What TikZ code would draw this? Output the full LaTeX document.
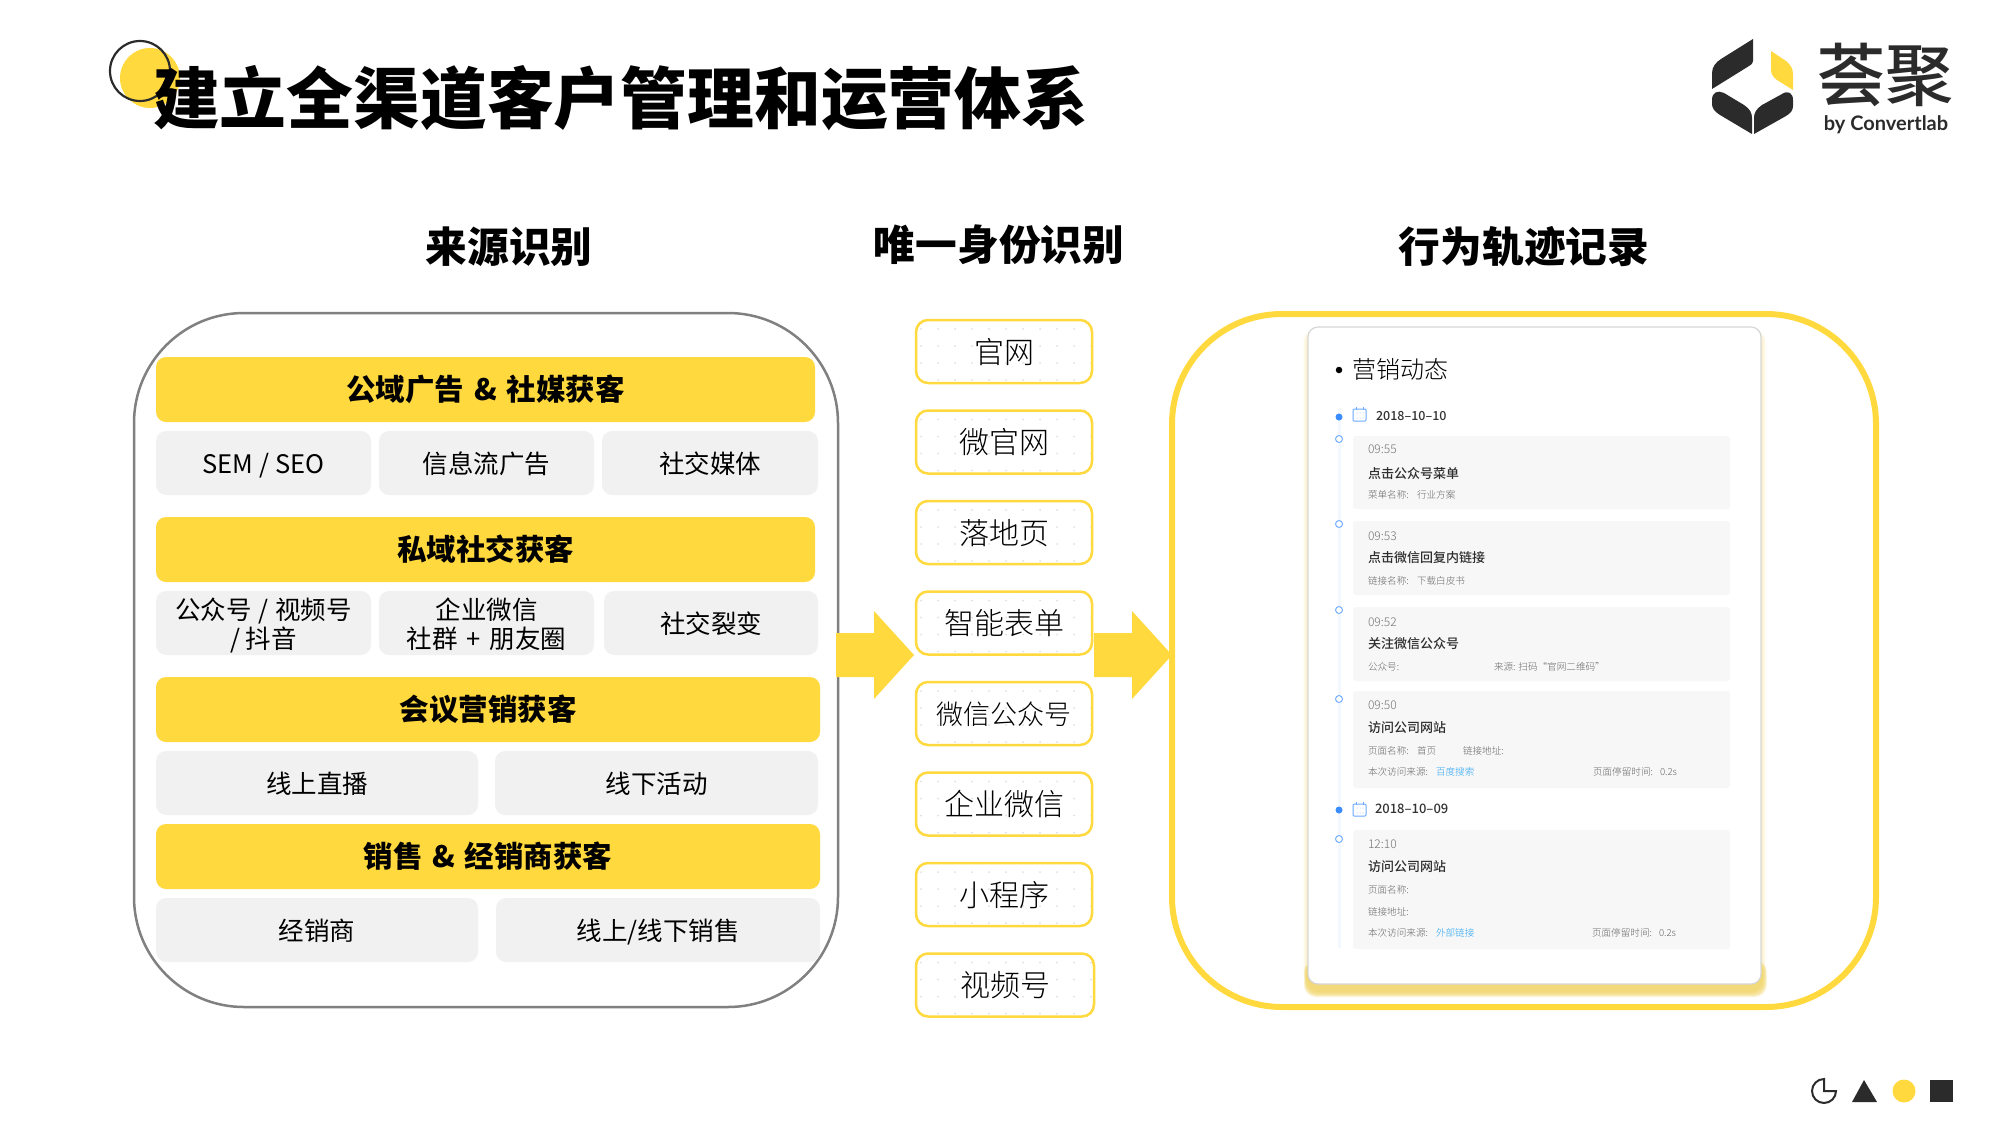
\documentclass[tikz,border=0pt]{standalone}
\usepackage{fontspec}
\usepackage{xcolor}
\usetikzlibrary{positioning,calc}
\setmainfont{Noto Sans CJK SC}
\newfontfamily\blackfont{Noto Sans CJK SC Black}
\newfontfamily\lightfont{Noto Sans CJK SC Light}
\newfontfamily\mediumfont{Noto Sans CJK SC Medium}
\newfontfamily\latinfont{Lato}
\definecolor{qjyellow}{HTML}{FFD93D}
\definecolor{qjshadow}{HTML}{F0D466}
\definecolor{qjdark}{HTML}{2B2B2B}
\definecolor{qjcell}{HTML}{F1F1F1}
\definecolor{qjpanel}{HTML}{F7F7F7}
\definecolor{qjblue}{HTML}{3B8CFF}
\definecolor{qjlink}{HTML}{2AA5F5}
\newcommand{\fsz}[1]{\fontsize{#1}{#1}\selectfont}

\begin{document}
\begin{tikzpicture}[
    x=1pt, y=-1pt,
    every node/.style={align=center, inner sep=0pt, outer sep=0pt, text=black},
    headtext/.style={font=\fsz{41.7}\bfseries},
    barbox/.style={fill=qjyellow, rounded corners=10pt, minimum height=65pt, font=\fsz{29.5}\bfseries},
    cellbox/.style={fill=qjcell, rounded corners=10pt, minimum height=64pt, font=\fsz{25.5}, text height=21pt, text depth=0pt},
    cellboxtwo/.style={cellbox, font=\fontsize{25.5}{29}\selectfont, text height=51pt, text depth=0pt},
    idbox/.style={draw=qjyellow, line width=2.5pt, fill=white, rounded corners=12pt, minimum width=176pt, minimum height=63pt, font=\fsz{30}\lightfont, text height=23pt, text depth=0pt,
        path picture={\foreach \i in {0,...,10} \foreach \j in {0,...,3}
            \fill[black!12] ($(path picture bounding box.north west)+(5+17*\i,9+17*\j)$) circle (1pt);}},
    blockarrow/.style={fill=qjyellow},
    panelbox/.style={fill=qjpanel, rounded corners=3pt, minimum width=377pt, anchor=north west},
    timetext/.style={anchor=west, font=\fsz{12}\lightfont, text=black!55},
    eventtext/.style={anchor=west, font=\fsz{13}\mediumfont, text=black!82},
    subtext/.style={anchor=west, font=\fsz{9.6}\lightfont, text=black!60},
    linktext/.style={subtext, text=qjlink},
    datetext/.style={anchor=west, font=\fsz{12.5}\mediumfont, text=black!80},
    dayday/.style={fill=qjblue, circle, minimum size=7pt},
    hourdot/.style={draw=qjblue!70, line width=1pt, fill=white, circle, minimum size=7pt},
    calicon/.style={draw=qjblue!75, line width=1pt, rounded corners=1pt, minimum width=13pt, minimum height=12pt, anchor=north west}
]
    \useasboundingbox (0,0) rectangle (2000,1125);

    % title
    \fill[qjyellow] (150,78) circle (30);
    \draw[qjdark, line width=2.2pt] (140,71) circle (30);
    \node[anchor=west, font=\fsz{66.8}\blackfont] (title) at (153,98.5) {建立全渠道客户管理和运营体系};

    % logo
    \fill[qjdark] (1753,39) -- (1753,61) .. controls (1753,63) and (1752,64) .. (1749,66) -- (1712,89) -- (1712,73) .. controls (1712,67) and (1716,62) .. (1721,59) -- cycle;
    \fill[qjyellow] (1771,51) -- (1786,61) .. controls (1791,65) and (1793,69) .. (1793,74) -- (1793,90) -- (1777,80) .. controls (1773,77) and (1771,74) .. (1771,70) -- cycle;
    \fill[qjdark] (1712,100) .. controls (1712,92) and (1718,90) .. (1724,93) -- (1744,105) .. controls (1750,109) and (1752,113) .. (1752,118) -- (1752,134) -- (1720,115) .. controls (1714,111) and (1712,108) .. (1712,104) -- cycle;
    \fill[qjdark] (1754,134) -- (1754,118) .. controls (1754,113) and (1756,109) .. (1762,105) -- (1782,94) .. controls (1788,90) and (1793,93) .. (1793,100) -- (1793,106) .. controls (1793,110) and (1791,113) .. (1786,116) -- cycle;
    \node[font=\fsz{68}\mediumfont, text=qjdark] (logoname) at (1885,75) {荟聚};
    \node[font=\fsz{20}\latinfont\bfseries, text=qjdark] (logoby) at (1886,125) {by Convertlab};

    % column heads
    \node[headtext] (headsource) at (509,247) {来源识别};
    \node[headtext] (headid) at (999,245) {唯一身份识别};
    \node[headtext] (headtrack) at (1524,247) {行为轨迹记录};

    % source column
    \draw[black!50, line width=2.5pt, rounded corners=110pt] (134,313) rectangle (838,1007);
    \node[barbox, minimum width=659pt, anchor=north west] (barpublic) at (156,357) {公域广告\hspace{3pt} \& \hspace{3pt}社媒获客};
    \node[cellbox, minimum width=215pt, anchor=north west] (seo) at (156,431) {SEM / SEO};
    \node[cellbox, minimum width=215pt, right=8pt of seo] (feedads) {信息流广告};
    \node[cellbox, minimum width=216pt, right=8pt of feedads] (socialmedia) {社交媒体};

    \node[barbox, minimum width=659pt, anchor=north west] (barprivate) at (156,517) {私域社交获客};
    \node[cellboxtwo, minimum width=215pt, anchor=north west] (wechatmp) at (156,591) {公众号\hspace{1pt} / \hspace{1pt}视频号\\/ 抖音};
    \node[cellboxtwo, minimum width=215pt, right=8pt of wechatmp] (wecom) {企业微信\\社群\hspace{3pt} + \hspace{3pt}朋友圈};
    \node[cellbox, minimum width=214pt, right=10pt of wecom] (fission) {社交裂变};

    \node[barbox, minimum width=664pt, anchor=north west] (barmeeting) at (156,677) {会议营销获客};
    \node[cellbox, minimum width=322pt, anchor=north west] (online) at (156,751) {线上直播};
    \node[cellbox, minimum width=323pt, right=17pt of online] (offline) {线下活动};

    \node[barbox, minimum width=664pt, anchor=north west] (barsales) at (156,824) {销售\hspace{3pt} \& \hspace{3pt}经销商获客};
    \node[cellbox, minimum width=322pt, anchor=north west] (dealer) at (156,898) {经销商};
    \node[cellbox, minimum width=324pt, right=18pt of dealer] (sales) {线上/线下销售};

    % id column
    \node[idbox, anchor=north west] (site) at (916,320) {官网};
    \node[idbox, below=27.5pt of site] (microsite) {微官网};
    \node[idbox, below=27.5pt of microsite] (landing) {落地页};
    \node[idbox, below=27.5pt of landing] (smartform) {智能表单};
    \node[idbox, below=27.5pt of smartform, font=\fsz{27}\lightfont, text height=21pt] (officialacc) {微信公众号};
    \node[idbox, below=27.5pt of officialacc] (wecomid) {企业微信};
    \node[idbox, below=27.5pt of wecomid] (miniapp) {小程序};
    \node[idbox, below=27.5pt of miniapp, minimum width=178pt, xshift=1pt] (channels) {视频号};

    % arrows
    \foreach \ax in {836,1094}
        \fill[blockarrow] (\ax,633) -- (\ax+38,633) -- (\ax+38,611) -- (\ax+78,655) -- (\ax+38,699) -- (\ax+38,677) -- (\ax,677) -- cycle;

    % track column
    \draw[qjyellow, line width=6pt, rounded corners=110pt] (1172,314) rectangle (1876,1007);
    \foreach \k in {1,...,5}
        \fill[qjshadow, opacity=0.07, rounded corners=12pt] (1307-\k*0.8,330) rectangle (1762+\k*0.8,985);
    \foreach \k in {1,...,6}
        \fill[qjshadow, opacity=0.28, rounded corners=12pt] (1307-\k*0.5,960) rectangle (1762+\k*0.8,991+\k);
    \node[draw=black!16, line width=1.2pt, fill=white, rounded corners=10pt, minimum width=453pt, minimum height=657pt, anchor=north west] (card) at (1308,327) {};
    \node[fill=black, circle, minimum size=6.5pt] (carddot) at (1339,370) {};
    \node[anchor=west, font=\fsz{24}\lightfont] (cardtitle) at (1352,369) {营销动态};
    \draw[qjblue!6, line width=3pt] (1339,408) -- (1339,948);

    \node[dayday] (dayone) at (1339,417) {};
    \node[calicon] (calone) at (1353,409) {};
    \node[datetext] (dateone) at (1376,416) {2018–10–10};
    \node[dayday] (daytwo) at (1339,810) {};
    \node[calicon] (caltwo) at (1353,804) {};
    \node[datetext, font=\fsz{13}\mediumfont] (datetwo) at (1375,809) {2018–10–09};
    \draw[qjblue!75, line width=1pt] (calone.north west)+(3,-2) -- +(3,1) (calone.north east)+(-3,-2) -- +(-3,1);
    \draw[qjblue!75, line width=1pt] (caltwo.north west)+(3,-2) -- +(3,1) (caltwo.north east)+(-3,-2) -- +(-3,1);
    \foreach \cy in {413,418,808,813}
        \foreach \cx in {1357,1360,1363}
            \fill[qjblue!60] (\cx,\cy) circle (0.5);

    \node[hourdot] (hourone) at (1339,439) {};
    \node[hourdot] (hourtwo) at (1339,524) {};
    \node[hourdot] (hourthree) at (1339,610) {};
    \node[hourdot] (hourfour) at (1339,699) {};
    \node[hourdot] (hourfive) at (1339,839) {};

    \node[panelbox, minimum height=73pt] (panelone) at (1353,436) {};
    \node[panelbox, minimum height=74pt] (paneltwo) at (1353,521) {};
    \node[panelbox, minimum height=74pt] (panelthree) at (1353,607) {};
    \node[panelbox, minimum height=97pt] (panelfour) at (1353,691) {};
    \node[panelbox, minimum height=119pt] (panelfive) at (1353,830) {};

    \node[timetext] (timeone) at (1368,449) {09:55};
    \node[eventtext] (eventone) at (1368,473) {点击公众号菜单};
    \node[subtext] (subone) at (1368,495) {菜单名称:};
    \node[subtext] (valone) at (1417,495) {行业方案};

    \node[timetext] (timetwo) at (1368,536) {09:53};
    \node[eventtext] (eventtwo) at (1368,558) {点击微信回复内链接};
    \node[subtext] (subtwo) at (1368,581) {链接名称:};
    \node[subtext] (valtwo) at (1417,581) {下载白皮书};

    \node[timetext] (timethree) at (1368,622) {09:52};
    \node[eventtext] (eventthree) at (1368,644) {关注微信公众号};
    \node[subtext] (subthree) at (1368,667) {公众号:};
    \node[subtext] (valthree) at (1494,667) {来源:  扫码“官网二维码”};

    \node[timetext] (timefour) at (1368,705) {09:50};
    \node[eventtext] (eventfour) at (1368,728) {访问公司网站};
    \node[subtext] (subfour) at (1368,751) {页面名称:};
    \node[subtext] (valfour) at (1417,751) {首页};
    \node[subtext] (urlfour) at (1463,751) {链接地址:};
    \node[subtext] (srcfour) at (1368,772) {本次访问来源:};
    \node[linktext] (linkfour) at (1436,772) {百度搜索};
    \node[subtext] (stayfour) at (1593,772) {页面停留时间:};
    \node[subtext] (secfour) at (1660,772) {0.2s};

    \node[timetext] (timefive) at (1368,844) {12:10};
    \node[eventtext] (eventfive) at (1368,867) {访问公司网站};
    \node[subtext] (subfive) at (1368,890) {页面名称:};
    \node[subtext] (urlfive) at (1368,912) {链接地址:};
    \node[subtext] (srcfive) at (1368,933) {本次访问来源:};
    \node[linktext] (linkfive) at (1436,933) {外部链接};
    \node[subtext] (stayfive) at (1592,933) {页面停留时间:};
    \node[subtext] (secfive) at (1659,933) {0.2s};

    % corner marks
    \draw[qjdark, line width=2pt] (1824,1079) arc[start angle=270, end angle=0, radius=12] -- (1824,1091) -- cycle;
    \fill[qjdark] (1852,1102) -- (1877,1102) -- (1864,1080) -- cycle;
    \fill[qjyellow] (1904,1091) circle (11.5);
    \fill[qjdark] (1930,1080) rectangle (1953,1102);
\end{tikzpicture}
\end{document}
